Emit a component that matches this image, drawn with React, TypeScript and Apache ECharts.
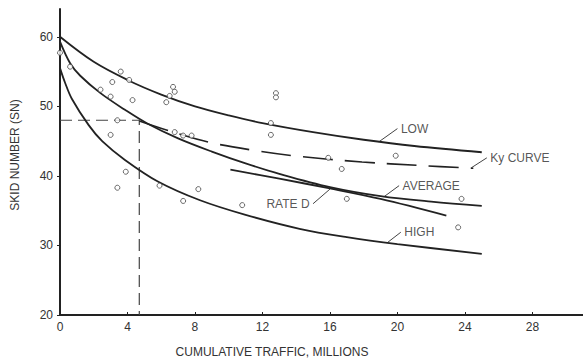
import React, { useEffect, useRef } from "react";
import * as echarts from "echarts";

// Curves: [cumulative traffic (millions), skid number]
const lowCurve: number[][] = [
  [0, 60], [2, 56.4], [4, 53.8], [6, 51.7], [8, 50.0], [10, 48.7], [12, 47.6],
  [15, 46.3], [18, 45.2], [21, 44.3], [25, 43.4],
];
const averageCurve: number[][] = [
  [0, 59.3], [0.6, 56.2], [1.2, 54.4], [2.4, 51.9], [3.85, 49.5], [5.2, 47.5],
  [7, 45.4], [9, 43.5], [11, 41.8], [13, 40.3], [16, 38.4], [19, 37.1],
  [22, 36.3], [25, 35.7],
];
const highCurve: number[][] = [
  [0, 55.5], [0.3, 53.4], [0.7, 51.1], [1.7, 47.3], [2.5, 45.0], [3.85, 42.3],
  [5.8, 39.2], [8.3, 36.5], [11, 34.4], [14.2, 32.4], [17, 31.2], [20, 30.2],
  [25, 28.8],
];
const rateDCurve: number[][] = [
  [10.1, 40.9], [13, 39.6], [16, 38.2], [19, 36.7], [22.9, 34.3],
];
const kyCurve: number[][] = [
  [4.7, 47.9], [6.7, 46.3], [8.9, 44.8], [11.7, 43.6], [14.2, 42.8],
  [17.9, 42.0], [21.3, 41.5], [24.5, 41.1],
];
const referenceLine: number[][] = [[0, 48], [4.7, 48], [4.7, 20]];

const pointsX: number[] = [
  0, 0.6, 3.6, 3.1, 4.1, 2.4, 3.0, 4.3, 6.7, 6.8, 6.5, 6.3, 3.4, 3.0, 6.8, 7.3, 7.8,
  12.5, 12.5, 12.8, 12.8, 3.9, 3.4, 5.9, 8.2, 7.3, 10.8, 15.9, 16.7, 19.9, 17.0, 23.8, 23.6,
];
const pointsY: number[] = [
  57.7, 55.7, 55.0, 53.5, 53.8, 52.4, 51.4, 50.9, 52.8, 52.1, 51.5, 50.6, 48.0, 45.9, 46.3, 45.8, 45.8,
  47.6, 45.9, 51.9, 51.3, 40.6, 38.3, 38.6, 38.1, 36.4, 35.8, 42.6, 41.0, 42.9, 36.7, 36.7, 32.6,
];

const xTicks: number[] = [0, 4, 8, 12, 16, 20, 24, 28];
const yTicks: number[] = [20, 30, 40, 50, 60];

const curveLabels: string[] = ["LOW", "Ky CURVE", "AVERAGE", "HIGH", "RATE D"];
const leaderStarts: number[][] = [[18.9, 44.9], [24.4, 41.2], [19.2, 37.0], [19.4, 30.4], [16.0, 38.1]];
const leaderEnds: number[][] = [[20.0, 46.8], [25.3, 42.6], [20.1, 38.6], [20.2, 31.9], [15.0, 36.0]];

const xName = "CUMULATIVE TRAFFIC, MILLIONS";
const yName = "SKID NUMBER (SN)";

const INK = "#222";
const FONT = "'Liberation Sans', Arial, sans-serif";

export default function App() {
  const ref = useRef<HTMLDivElement>(null);
  useEffect(() => {
    if (!ref.current) return;
    const chart = echarts.init(ref.current, undefined, { renderer: "svg" });

    const solid = (name: string, data: number[][]) => ({
      name,
      type: "line",
      data,
      smooth: 0.35,
      symbol: "none",
      lineStyle: { color: INK, width: 1.8 },
      z: 3,
    });

    const leaders = curveLabels.map((lab, i) => ({
      name: "leader-" + lab,
      type: "line",
      data: [leaderStarts[i], leaderEnds[i]],
      symbol: "none",
      lineStyle: { color: "#444", width: 1 },
      z: 2,
    }));

    const labelSeries = {
      name: "labels",
      type: "scatter",
      symbolSize: 1,
      itemStyle: { color: "rgba(0,0,0,0)" },
      data: curveLabels.map((lab, i) => ({
        value: leaderEnds[i],
        label: {
          show: true,
          formatter: lab,
          position: lab === "RATE D" ? "left" : "right",
          distance: 3,
          color: "#2a2a2a",
          fontSize: 12,
          fontFamily: FONT,
        },
      })),
      z: 4,
    };

    chart.setOption({
      animation: false,
      backgroundColor: "#ffffff",
      grid: { left: 60, right: 0, top: 9, bottom: 49 },
      xAxis: {
        type: "value",
        min: 0,
        max: 31,
        interval: 4,
        axisLine: { show: true, lineStyle: { color: INK, width: 2 } },
        axisTick: { show: true, inside: true, length: 3, lineStyle: { color: INK } },
        splitLine: { show: false },
        axisLabel: {
          color: "#333",
          fontSize: 12,
          fontFamily: FONT,
          margin: 6,
          showMaxLabel: false,
          formatter: (v: number) => (xTicks.includes(v) ? String(v) : ""),
        },
      },
      yAxis: {
        type: "value",
        min: 20,
        max: 64,
        interval: 10,
        axisLine: { show: true, onZero: false, lineStyle: { color: INK, width: 2 } },
        axisTick: { show: true, length: 3, lineStyle: { color: INK } },
        splitLine: { show: false },
        axisLabel: {
          color: "#333",
          fontSize: 12,
          fontFamily: FONT,
          margin: 7,
          showMaxLabel: false,
          formatter: (v: number) => (yTicks.includes(v) ? String(v) : ""),
        },
      },
      graphic: [
        {
          type: "text",
          x: 272,
          y: 352,
          style: {
            text: xName,
            fill: "#333",
            font: "12px " + FONT,
            align: "center",
            verticalAlign: "middle",
          },
        },
        {
          type: "text",
          x: 15,
          y: 155,
          rotation: Math.PI / 2,
          style: {
            text: yName,
            fill: "#333",
            font: "12px " + FONT,
            align: "center",
            verticalAlign: "middle",
          },
        },
      ],
      series: [
        solid("LOW", lowCurve),
        solid("AVERAGE", averageCurve),
        solid("HIGH", highCurve),
        solid("RATE D", rateDCurve),
        {
          name: "Ky CURVE",
          type: "line",
          data: kyCurve,
          smooth: 0.35,
          symbol: "none",
          lineStyle: { color: INK, width: 1.6, type: [30, 12] },
          z: 3,
        },
        {
          name: "reference",
          type: "line",
          data: referenceLine,
          symbol: "none",
          lineStyle: { color: "#444", width: 1.2, type: [12, 6] },
          z: 2,
        },
        ...leaders,
        {
          name: "observations",
          type: "scatter",
          data: pointsX.map((x, i) => [x, pointsY[i]]),
          symbol: "circle",
          symbolSize: 5,
          itemStyle: { color: "#fff", borderColor: "#444", borderWidth: 1 },
          z: 5,
        },
        labelSeries,
      ],
    });
    return () => chart.dispose();
  }, []);
  return <div ref={ref} style={{ width: 583, height: 364, position: "absolute", left: 0, top: 0 }} />;
}
